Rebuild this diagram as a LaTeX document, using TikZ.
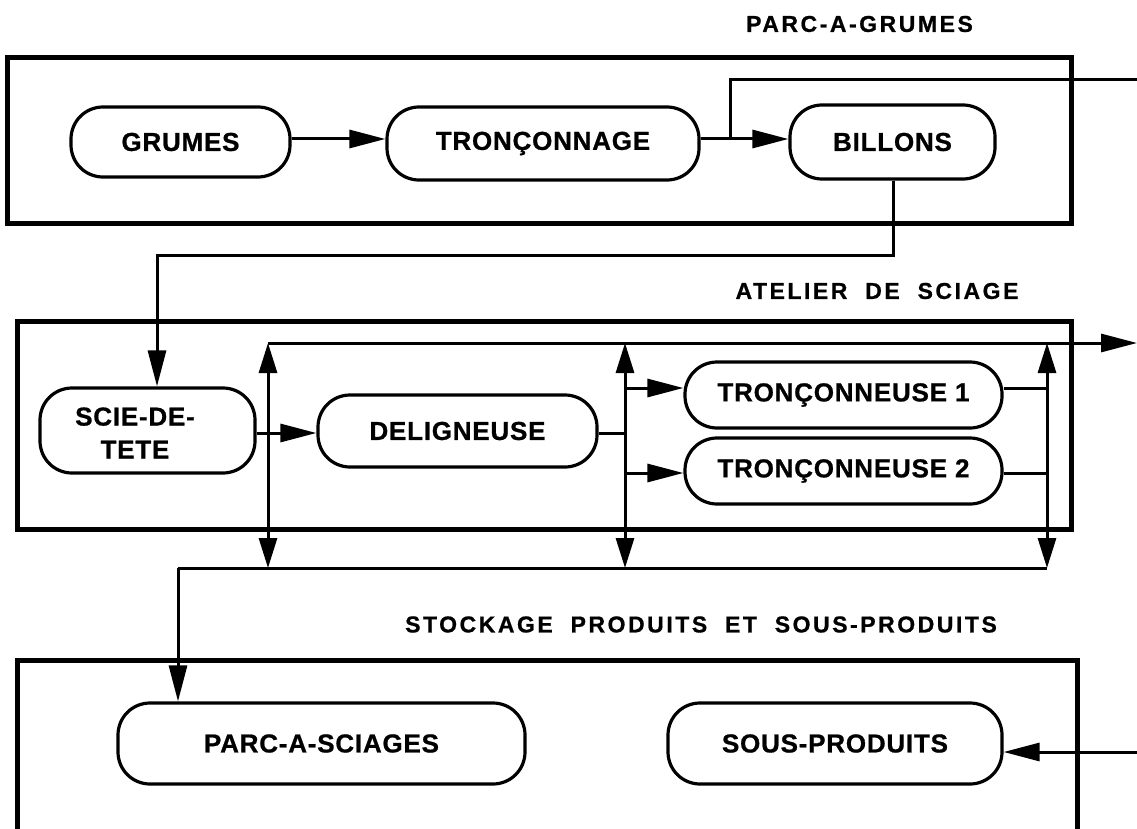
\documentclass[tikz,border=0pt]{standalone}
\usepackage{fontspec}
\setmainfont{Liberation Sans}
\newfontfamily\boxfont[LetterSpace=3.0,BoldFeatures={FakeBold=0.8}]{Liberation Sans}
\newfontfamily\titlefont[LetterSpace=11.0,WordSpace=2.0,BoldFeatures={FakeBold=0.8}]{Liberation Sans}
\usetikzlibrary{arrows.meta}
\begin{document}
\begin{tikzpicture}[x=1pt,y=-1pt,
  frame/.style={line width=5pt},
  proc/.style={draw, line width=3.2pt, rounded corners=32pt, inner sep=0pt,
    font=\boxfont\bfseries\fontsize{26}{33}\selectfont, align=center},
  ptext/.style={inner sep=0pt, font=\boxfont\bfseries\fontsize{26}{33}\selectfont, align=center},
  conn/.style={line width=3pt},
  arr/.style={conn, -{Triangle[length=36pt,width=18pt]}},
  darr/.style={conn, {Triangle[length=30pt,width=18pt]}-{Triangle[length=30pt,width=18pt]}},
  title/.style={inner sep=0pt, font=\titlefont\bfseries\fontsize{23}{27}\selectfont}
]
\useasboundingbox (0,0) rectangle (1137,829);

% titles
\node[title] (t1) at (859.5,24) {PARC-A-GRUMES};
\node[title] (t2) at (877,291) {ATELIER DE SCIAGE};
\node[title] (t3) at (701,624.5) {STOCKAGE PRODUITS ET SOUS-PRODUITS};

% frames
\draw[frame] (7,58) rectangle (1071,223);
\draw[frame] (17,321) rectangle (1071,529);
\draw[frame] (17,835) -- (17,660) -- (1077,660) -- (1077,835);

% nodes
\node[proc, minimum width=219pt, minimum height=70pt] (grumes) at (180.5,142) {GRUMES};
\node[proc, minimum width=312pt, minimum height=73pt] (tronc) at (543,143.5) {TRONÇONNAGE};
\node[proc, minimum width=205pt, minimum height=74pt] (billons) at (892.5,142) {BILLONS};
\node[proc, minimum width=215pt, minimum height=85pt] (scie) at (147.5,430.5) {};
\node[ptext] (scietxt) at (135,433) {SCIE-DE-\\TETE};
\node[proc, minimum width=279pt, minimum height=72pt] (delig) at (457.5,431) {DELIGNEUSE};
\node[proc, minimum width=317pt, minimum height=66pt] (tr1) at (843.5,395) {TRONÇONNEUSE 1};
\node[proc, minimum width=317pt, minimum height=66pt] (tr2) at (843.5,471) {TRONÇONNEUSE 2};
\node[proc, minimum width=407pt, minimum height=81pt] (parc) at (321.5,743.5) {PARC-A-SCIAGES};
\node[proc, minimum width=334pt, minimum height=81pt] (sous) at (835,743.5) {SOUS-PRODUITS};

% helper coordinates
\coordinate (r1) at (0,139);
\coordinate (r2) at (0,433);
\coordinate (r3) at (0,388);
\coordinate (r4) at (0,473);
\coordinate (br) at (730,139);
\coordinate (bl) at (893,255);
\coordinate (sx) at (157,0);
\coordinate (e1) at (1137,80);
\coordinate (e2) at (1137,343);
\coordinate (e3) at (1137,752);
\coordinate (v1) at (268,343);
\coordinate (v2) at (625,343);
\coordinate (v3) at (1047,343);
\coordinate (w1) at (268,568);
\coordinate (w2) at (625,568);
\coordinate (w3) at (1047,568);
\coordinate (w0) at (178,568);

% parc-a-grumes connectors
\draw[arr] (grumes.east |- r1) -- (tronc.west |- r1);
\draw[arr] (tronc.east |- r1) -- (billons.west |- r1);
\draw[conn] (br) |- (e1);
\draw[arr] (billons.south -| bl) |- (sx |- bl) -- (scie.north -| sx);

% atelier connectors
\draw[arr] (v1) -- (e2);
\draw[arr] (scie.east |- r2) -- (delig.west |- r2);
\draw[conn] (delig.east |- r2) -- (v2 |- r2);
\draw[arr] (v2 |- r3) -- (tr1.west |- r3);
\draw[arr] (v2 |- r4) -- (tr2.west |- r4);
\draw[conn] (tr1.east |- r3) -- (v3 |- r3);
\draw[conn] (tr2.east |- r4) -- (v3 |- r4);
\draw[darr] (w1) -- (v1);
\draw[darr] (w2) -- (v2);
\draw[darr] (w3) -- (v3);
\draw[conn] (w3) -- (w0);
\draw[arr] (w0) -- (parc.north -| w0);

% stockage
\draw[arr] (e3) -- (sous.east |- e3);
\end{tikzpicture}
\end{document}
